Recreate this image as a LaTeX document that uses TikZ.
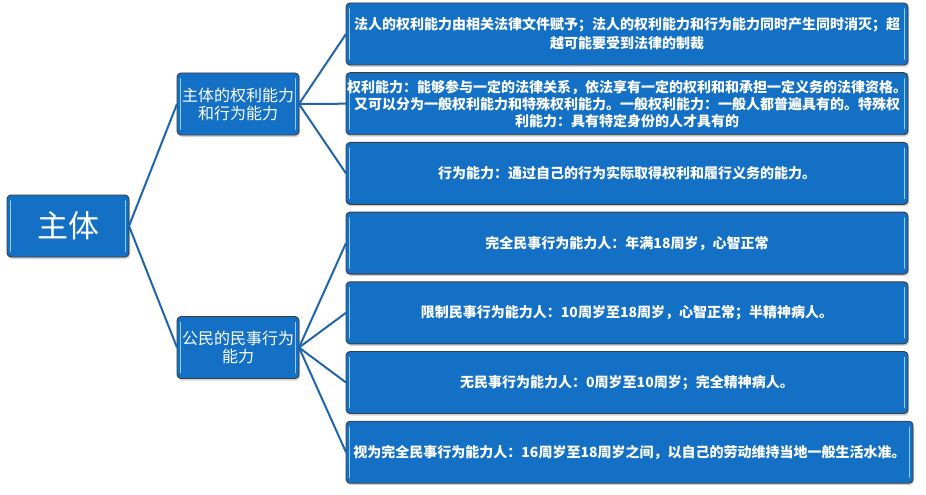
\documentclass[tikz,border=0pt]{standalone}
\usepackage{fontspec}
\newfontfamily\cjk{Noto Sans CJK SC}
\usetikzlibrary{positioning,shadows}
\definecolor{boxblue}{HTML}{1470C4}
\definecolor{boxedge}{HTML}{3C3C3C}
\definecolor{glint}{HTML}{8FD0FF}
\definecolor{linkblue}{HTML}{2064AC}
\tikzset{
  card/.style={rectangle, rounded corners=4pt, draw=boxedge, line width=0.9pt, fill=boxblue,
               text=white, align=center, inner sep=2pt, outer sep=0pt, minimum height=62pt,
               drop shadow={shadow xshift=1pt, shadow yshift=-2pt, opacity=0.35},
               path picture={
                 \draw[glint, line width=1.6pt, line cap=round]
                   ([xshift=3.5pt,yshift=-6pt]path picture bounding box.north west)
                     -- ([xshift=3.5pt,yshift=6pt]path picture bounding box.south west)
                   ([xshift=-3.5pt,yshift=-6pt]path picture bounding box.north east)
                     -- ([xshift=-3.5pt,yshift=6pt]path picture bounding box.south east);
               }},
  rootbox/.style={card, minimum width=122pt, font=\cjk\fontsize{31}{34}\selectfont},
  midbox/.style={card, minimum width=122pt, font=\cjk\fontsize{16}{18}\selectfont},
  leaf/.style={card, minimum width=562pt, font=\cjk\bfseries\fontsize{14}{19}\selectfont},
  link/.style={draw=linkblue, line width=2pt},
}

\begin{document}
\begin{tikzpicture}[x=1pt, y=-1pt, node distance=7.7pt]
\useasboundingbox (0,0) rectangle (926,495);
\node[rootbox] (zt) at (68,226) {主体};
\node[midbox] (qlnl) at (238,104) {主体的权利能力\\和行为能力};
\node[midbox] (msxw) at (238,347.5) {公民的民事行为\\能力};
% right column
\node[leaf] (fr) at (627,34) {法人的权利能力由相关法律文件赋予；法人的权利能力和行为能力同时产生同时消灭；超\\越可能要受到法律的制裁};
\node[leaf, below=of fr, inner sep=1pt, font=\cjk\bfseries\fontsize{14}{17}\selectfont] (ql) {权利能力：能够参与一定的法律关系，依法享有一定的权利和和承担一定义务的法律资格。\\又可以分为一般权利能力和特殊权利能力。一般权利能力：一般人都普遍具有的。特殊权\\利能力：具有特定身份的人才具有的};
\node[leaf, below=of ql] (xw) {行为能力：通过自己的行为实际取得权利和履行义务的能力。};
\node[leaf, below=of xw] (wq) {完全民事行为能力人：年满18周岁，心智正常};
\node[leaf, below=of wq] (xz) {限制民事行为能力人：10周岁至18周岁，心智正常；半精神病人。};
\node[leaf, below=of xz] (wu) {无民事行为能力人：0周岁至10周岁；完全精神病人。};
\node[leaf, minimum width=567pt, below right=7.7pt and 0pt of wu.south west] (sw) {视为完全民事行为能力人：16周岁至18周岁之间，以自己的劳动维持当地一般生活水准。};
\foreach \m in {qlnl,msxw}
  \draw[link] (zt.east) -- (\m.west);
\foreach \r in {fr,ql,xw}
  \draw[link] (qlnl.east) -- (\r.west);
\foreach \r in {wq,xz,wu,sw}
  \draw[link] (msxw.east) -- (\r.west);
\end{tikzpicture}
\end{document}
